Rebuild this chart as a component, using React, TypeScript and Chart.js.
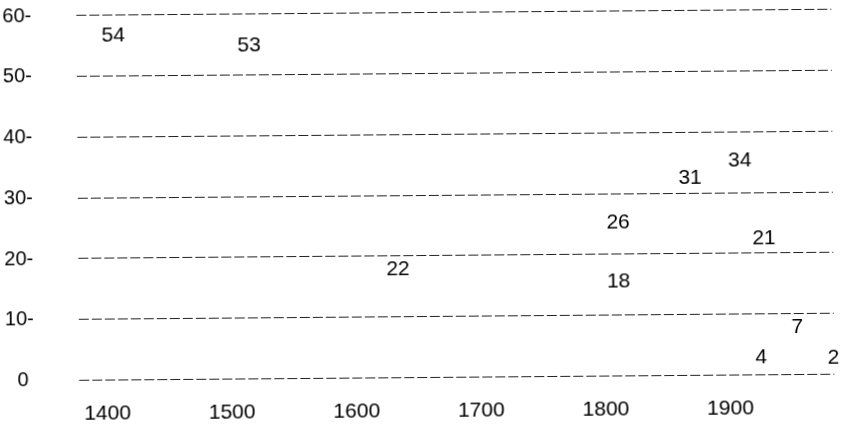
import React, { useEffect, useRef } from "react";
import { Chart, registerables } from "chart.js";

Chart.register(...registerables);

// Printed numbers, the year they sit at, and their height on the value axis
const labelValues = [54, 53, 22, 26, 18, 31, 34, 21, 7, 4, 2];
const labelYears = [1407, 1516, 1634, 1811, 1811, 1869, 1909, 1928, 1954, 1925, 1983];
const labelLevels = [56.7, 54.8, 17.9, 25.2, 15.5, 32.5, 35.3, 22.4, 7.8, 2.8, 2.7];

const xTicks = [1400, 1500, 1600, 1700, 1800, 1900];
const yTicks = [0, 10, 20, 30, 40, 50, 60];

const FONT = "'Liberation Sans', Arial, sans-serif";

const textLabels = {
  id: "textLabels",
  afterDatasetsDraw(chart: any) {
    const ctx = chart.ctx;
    const xs = chart.scales.x;
    const ys = chart.scales.y;
    ctx.save();
    ctx.fillStyle = "#000";
    ctx.font = `21px ${FONT}`;
    ctx.textAlign = "center";
    ctx.textBaseline = "middle";
    labelValues.forEach((v, i) => {
      ctx.fillText(String(v), xs.getPixelForValue(labelYears[i]), ys.getPixelForValue(labelLevels[i]));
    });
    ctx.restore();
  },
};

export default function App() {
  const ref = useRef<HTMLCanvasElement>(null);
  useEffect(() => {
    const chart = new Chart(ref.current!, {
      type: "scatter",
      data: {
        datasets: [
          {
            data: labelYears.map((x, i) => ({ x, y: labelLevels[i] })),
            pointRadius: 0,
            showLine: false,
          },
        ],
      },
      options: {
        responsive: false,
        animation: false,
        layout: { padding: { top: 13, right: 20, left: 0, bottom: 0 } },
        plugins: { legend: { display: false }, tooltip: { enabled: false } },
        scales: {
          x: {
            type: "linear",
            min: 1377.5,
            max: 1983.5,
            afterBuildTicks: (s: any) => {
              s.ticks = xTicks.map((value) => ({ value }));
            },
            afterFit: (s: any) => {
              s.height = 57.5;
              s.paddingLeft = 0;
              s.paddingRight = 0;
            },
            grid: { display: false, drawTicks: false },
            border: { display: false },
            ticks: {
              padding: 21,
              color: "#000",
              font: { family: FONT, size: 21 },
              callback: (v: any) => String(v),
              maxRotation: 0,
            },
          },
          y: {
            min: 0,
            max: 60,
            afterBuildTicks: (s: any) => {
              s.ticks = yTicks.map((value) => ({ value }));
            },
            afterFit: (s: any) => {
              s.width = 78;
              s.paddingTop = 0;
              s.paddingBottom = 0;
            },
            grid: {
              drawTicks: false,
              color: "#222",
              lineWidth: 1.1,
            },
            border: { display: false, dash: [10, 3] },
            ticks: {
              padding: 45,
              color: "#000",
              font: { family: FONT, size: 20 },
              callback: (v: any) => (v === 0 ? "0 " : `${v}-`),
            },
          },
        },
      },
      plugins: [textLabels],
    } as any);
    return () => chart.destroy();
  }, []);
  return (
    <div style={{ position: "fixed", left: 0, top: 0, width: 853, height: 435, background: "#fff" }}>
      <canvas
        ref={ref}
        width={853}
        height={435}
        style={{ display: "block", transform: "rotate(-0.46deg)" }}
      />
    </div>
  );
}
